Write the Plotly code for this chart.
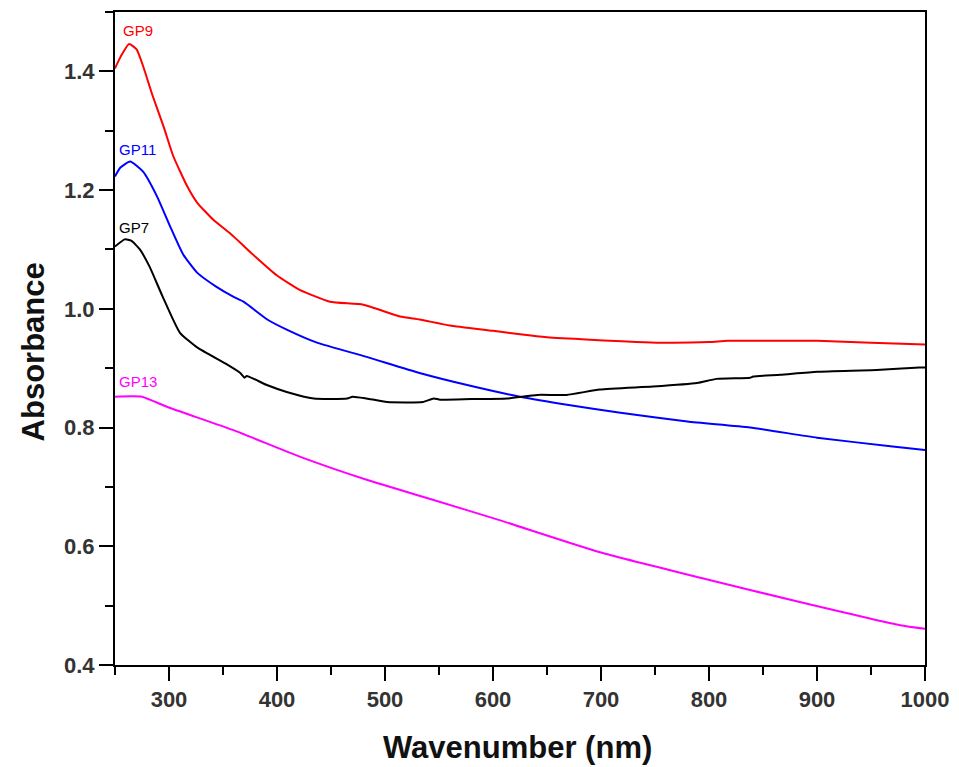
import plotly.graph_objects as go

# ---- data ----
gp9_x = [250, 255, 263, 270, 276, 285, 295, 304, 317, 326, 341, 356, 381, 400, 421, 449, 480, 514, 532, 560, 600, 625, 650, 690, 755, 800, 817, 850, 900, 950, 1000]
gp9_y = [1.405, 1.424, 1.446, 1.437, 1.409, 1.358, 1.307, 1.257, 1.206, 1.179, 1.150, 1.128, 1.086, 1.056, 1.032, 1.012, 1.007, 0.987, 0.982, 0.972, 0.963, 0.957, 0.952, 0.948, 0.943, 0.944, 0.946, 0.946, 0.946, 0.943, 0.940]

gp11_x = [250, 255, 264, 276, 289, 301, 313, 326, 344, 359, 369, 391, 409, 437, 483, 532, 580, 625, 670, 718, 780, 838, 900, 970, 1000]
gp11_y = [1.223, 1.238, 1.248, 1.231, 1.189, 1.139, 1.092, 1.061, 1.037, 1.021, 1.012, 0.982, 0.965, 0.943, 0.919, 0.892, 0.870, 0.852, 0.838, 0.825, 0.810, 0.800, 0.783, 0.768, 0.762]

gp7_x = [250, 259, 265, 273, 282, 294, 310, 326, 354, 366, 370, 372, 390, 409, 434, 465, 470, 483, 502, 535, 545, 551, 580, 613, 641, 668, 699, 748, 789, 807, 838, 841, 866, 900, 955, 995, 1000]
gp7_y = [1.105, 1.117, 1.115, 1.100, 1.071, 1.021, 0.960, 0.935, 0.906, 0.892, 0.884, 0.887, 0.872, 0.860, 0.849, 0.849, 0.852, 0.849, 0.843, 0.843, 0.849, 0.847, 0.848, 0.849, 0.855, 0.855, 0.864, 0.869, 0.875, 0.882, 0.884, 0.886, 0.889, 0.894, 0.897, 0.901, 0.901]

gp13_x = [250, 275, 298, 359, 421, 483, 545, 606, 699, 792, 884, 977, 1000]
gp13_y = [0.852, 0.852, 0.835, 0.796, 0.751, 0.712, 0.678, 0.644, 0.590, 0.547, 0.506, 0.467, 0.461]

series = [
    ("GP9", gp9_x, gp9_y, "#ff0000", 256, 1.469),
    ("GP11", gp11_x, gp11_y, "#0000ff", 251.5, 1.268),
    ("GP7", gp7_x, gp7_y, "#000000", 251.5, 1.137),
    ("GP13", gp13_x, gp13_y, "#ff00ff", 251.5, 0.877),
]

x_ticks = [300, 400, 500, 600, 700, 800, 900, 1000]
y_ticks = [0.4, 0.6, 0.8, 1.0, 1.2, 1.4]
y_ticklabels = ["0.4", "0.6", "0.8", "1.0", "1.2", "1.4"]

fig = go.Figure()
for name, xs, ys, col, lx, ly in series:
    fig.add_trace(go.Scatter(x=xs, y=ys, mode="lines", name=name,
                             line=dict(color=col, width=2, shape="spline", smoothing=0.5),
                             showlegend=False))
    fig.add_annotation(x=lx, y=ly, text=name, showarrow=False, xanchor="left", yanchor="middle",
                       font=dict(family="Liberation Sans, Arial", size=15, color=col))

tick_font = dict(family="Liberation Sans, Arial", size=22, color="#333333", weight="bold")
title_font = dict(family="Liberation Sans, Arial", size=31, color="#111111", weight="bold")

fig.update_xaxes(range=[250, 1000], tickvals=x_ticks, ticks="outside", ticklen=14, tickwidth=2,
                 tickcolor="black", showline=True, linecolor="black", linewidth=2, mirror=True,
                 showgrid=False, zeroline=False, tickfont=tick_font,
                 minor=dict(ticks="outside", ticklen=8, tickwidth=2, tickcolor="black", dtick=50, tick0=250, showgrid=False))
fig.update_yaxes(range=[0.4, 1.5], tickvals=y_ticks, ticktext=y_ticklabels, ticks="outside", ticklen=14, tickwidth=2,
                 tickcolor="black", showline=True, linecolor="black", linewidth=2, mirror=True,
                 showgrid=False, zeroline=False, tickfont=tick_font,
                 minor=dict(ticks="outside", ticklen=8, tickwidth=2, tickcolor="black", dtick=0.1, tick0=0.4, showgrid=False))

fig.add_annotation(text="Wavenumber (nm)", xref="paper", yref="paper", x=0.497, y=-0.127,
                   showarrow=False, xanchor="center", yanchor="middle", font=title_font)
fig.add_annotation(text="Absorbance", xref="paper", yref="paper", x=-0.101, y=0.479,
                   textangle=-90, showarrow=False, xanchor="center", yanchor="middle", font=title_font)

fig.update_layout(width=959, height=767, plot_bgcolor="white", paper_bgcolor="white",
                  margin=dict(l=115, r=34, t=12, b=102, autoexpand=False))

fig.write_html("out.html")
